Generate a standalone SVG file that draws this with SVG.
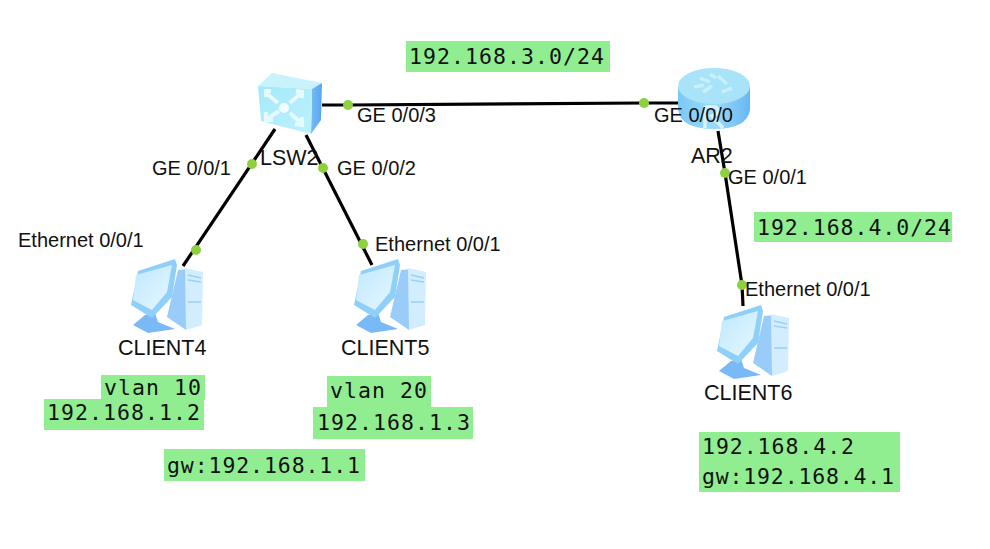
<svg xmlns="http://www.w3.org/2000/svg" width="990" height="549" viewBox="0 0 990 549">
<style>
.l{font-family:"Liberation Sans",Arial,sans-serif;font-size:20px;fill:#111}
.n{font-family:"Liberation Sans",Arial,sans-serif;font-size:21.5px;fill:#111}
.m{font-family:"DejaVu Sans Mono","Liberation Mono",monospace;font-size:21.5px;fill:#111}
.b{fill:#90ee90}
.c{stroke:#000;stroke-width:3.2;fill:none}
.d{fill:#8fd040}
</style>
<defs>
<linearGradient id="sw" x1="0" y1="0" x2="1" y2="1"><stop offset="0" stop-color="#a4e9fa"/><stop offset="1" stop-color="#bdf1fc"/></linearGradient>
<linearGradient id="side" x1="0" y1="0" x2="1" y2="0"><stop offset="0" stop-color="#74bdf6"/><stop offset="1" stop-color="#5aa4f2"/></linearGradient>
<linearGradient id="rt" x1="0" y1="0" x2="1" y2="0"><stop offset="0" stop-color="#7cc8f6"/><stop offset=".5" stop-color="#9adcfa"/><stop offset="1" stop-color="#68b6f4"/></linearGradient>
<linearGradient id="scr" x1="0" y1="0" x2="1" y2="1"><stop offset="0" stop-color="#bfe8ff"/><stop offset="1" stop-color="#e6f7ff"/></linearGradient>
<g id="pc">
<path d="M52 12 L62 11 L60 72 L41 59Z" fill="#9accfa"/>
<path d="M59 10 L77 14 L76 67 L60 72Z" fill="#d2edff"/>
<path d="M62 17 L75 20 M62 22 L75 24 M62 44 L75 44" stroke="#9bd0f6" stroke-width="1.5" fill="none"/>
<path d="M19 57 L29 55 L32 64 L49 71 L22 75 L7 67Z" fill="#78b9f6"/>
<path d="M12 13 L49 1 L51 7 L46 39 L26 60 L5 47Z" fill="#8fd0fb"/>
<path d="M10 17 L46 7 L41 34 L26 52 L7 42Z" fill="url(#scr)"/>
</g>
</defs>
<g id="connectors">
<path class="c" d="M322 105 L348 105 L644 103 L678 103"/>
<path class="c" d="M275 129 L183 266"/>
<path class="c" d="M306 135 L372 265"/>
<path class="c" d="M718 131 L725 173 L742 285 L743 306"/>
<g>
<circle class="d" cx="348" cy="105" r="5"/><circle class="d" cx="644" cy="103" r="5"/>
<circle class="d" cx="252" cy="164" r="5"/><circle class="d" cx="196" cy="250" r="5"/>
<circle class="d" cx="323" cy="168" r="5"/><circle class="d" cx="363" cy="244" r="5"/>
<circle class="d" cx="725" cy="173" r="5"/><circle class="d" cx="742" cy="285" r="5"/>
</g>
</g>
<g id="LSW2">
<path d="M258 86 L272 73 L322 83 L312 89Z" fill="#c9f3fc"/>
<path d="M312 89 L322 83 L321 120 L311 134Z" fill="url(#side)"/>
<path d="M258 86 L312 89 L311 134 L261 121Z" fill="url(#sw)"/>
<path d="M267 94 L278 103 M271 91 L266 91 L266 97 M301 93 L290 103 M296 91 L302 92 L302 98 M267 119 L279 111 M266 112 L266 120 L273 120 M302 124 L290 113 M302 117 L302 125 L295 124" stroke="#e4faff" stroke-width="4" fill="none"/>
<circle cx="284" cy="108" r="5" fill="#f0fcff"/>
<text class="n" x="260" y="165">LSW2</text>
</g>
<g id="AR2">
<path d="M678 86 L678 110 Q681 129 714 129 Q747 129 750 110 L750 86Z" fill="url(#rt)"/>
<ellipse cx="714" cy="86" rx="36" ry="18" fill="#a8e3fa"/>
<path d="M700 78 L710 82 M703 92 L712 86 M718 76 L727 84 M722 92 L732 88 M694 87 L704 85 M710 74 L716 78" stroke="#c8f0fb" stroke-width="3.5" fill="none"/>
<path d="M705 106 L705 128 M705 107 L716 107 Q722 113 712 116 L723 128" stroke="#d8f3fd" stroke-width="3.5" fill="none"/>
<text class="n" x="691" y="163">AR2</text>
</g>
<g id="CLIENT4">
<use href="#pc" x="126" y="258"/>
<text class="n" x="118" y="355">CLIENT4</text>
</g>
<g id="CLIENT5">
<use href="#pc" x="349" y="258"/>
<text class="n" x="341" y="355">CLIENT5</text>
</g>
<g id="CLIENT6">
<use href="#pc" x="712" y="304"/>
<text class="n" x="704" y="400">CLIENT6</text>
</g>
<g id="labels">
<text class="l" x="357" y="122">GE 0/0/3</text>
<text class="l" x="654" y="122">GE 0/0/0</text>
<text class="l" x="152" y="175">GE 0/0/1</text>
<text class="l" x="337" y="175">GE 0/0/2</text>
<text class="l" x="728" y="184">GE 0/0/1</text>
<text class="l" x="18" y="247">Ethernet 0/0/1</text>
<text class="l" x="375" y="251">Ethernet 0/0/1</text>
<text class="l" x="745" y="296">Ethernet 0/0/1</text>
</g>
<g id="notes">
<rect class="b" x="406" y="41" width="204" height="31"/>
<rect class="b" x="754" y="212" width="198" height="30"/>
<rect class="b" x="101" y="375" width="104" height="25"/>
<rect class="b" x="44" y="399" width="160" height="31"/>
<rect class="b" x="327" y="376" width="104" height="31"/>
<rect class="b" x="313" y="407" width="160" height="32"/>
<rect class="b" x="164" y="449" width="201" height="32"/>
<rect class="b" x="699" y="432" width="201" height="60"/>
<text class="m" x="409" y="64" textLength="195">192.168.3.0/24</text>
<text class="m" x="757" y="235" textLength="194">192.168.4.0/24</text>
<text class="m" x="104" y="395" textLength="97">vlan 10</text>
<text class="m" x="47" y="420" textLength="153">192.168.1.2</text>
<text class="m" x="330" y="398" textLength="97">vlan 20</text>
<text class="m" x="317" y="430" textLength="153">192.168.1.3</text>
<text class="m" x="167" y="473" textLength="193">gw:192.168.1.1</text>
<text class="m" x="702" y="454" textLength="152">192.168.4.2</text>
<text class="m" x="702" y="484" textLength="192">gw:192.168.4.1</text>
</g>
</svg>
